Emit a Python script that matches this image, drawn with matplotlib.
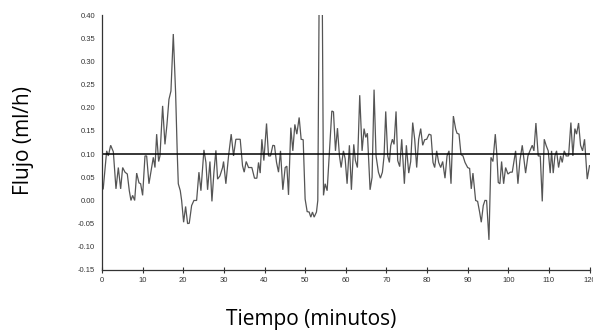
import matplotlib
matplotlib.use("Agg")
import matplotlib.pyplot as plt

# Flow measurements over time
tiempo = [
    0.3, 1.15, 1.56, 2.13, 2.79, 3.44, 4.02, 4.59, 5.08, 5.66, 6.23, 6.72, 7.13, 7.54,
    8.04, 8.53, 9.10, 9.51, 10.0, 10.58, 10.99, 11.56, 12.22, 12.63, 13.04, 13.45,
    13.94, 14.27, 14.92, 15.50, 15.99, 16.48, 16.97, 17.55, 18.12, 18.53, 18.78,
    19.27, 19.60, 20.09, 20.58, 21.07, 21.48, 22.06, 22.63, 23.29, 23.86, 24.35,
    25.09, 25.58, 25.99, 26.57, 27.06, 27.55, 28.04, 28.45, 29.03, 29.68, 29.92,
    30.49, 31.15, 31.80, 32.38, 32.95, 34.02, 34.59, 35.00, 35.49, 36.07, 36.89,
    37.54, 38.12, 38.53, 38.94, 39.35, 39.84, 40.50, 40.99, 41.48, 42.05, 42.46,
    42.96, 43.45, 43.94, 44.51, 45.09, 45.50, 45.91, 46.48, 46.97, 47.47, 47.96,
    48.53, 49.02, 49.52, 50.00, 50.50, 50.99, 51.40, 51.81, 52.22, 52.79, 53.12,
    53.85, 54.52, 54.93, 55.42, 55.91, 56.57, 56.98, 57.47, 57.96, 58.45, 58.86,
    59.43, 59.85, 60.33, 60.90, 61.39, 61.97, 62.38, 62.87, 63.44, 64.02, 64.51,
    64.92, 65.33, 65.99, 66.48, 66.97, 67.46, 68.04, 68.53, 69.02, 69.43, 69.84,
    70.33, 70.74, 71.07, 71.48, 71.89, 72.38, 72.79, 73.28, 73.78, 74.43, 74.92,
    75.50, 75.99, 76.48, 76.97, 77.46, 77.95, 78.45, 78.94, 79.43, 79.93, 80.50,
    80.99, 81.48, 81.89, 82.38, 82.87, 83.37, 83.86, 84.43, 84.93, 85.42, 85.91,
    86.49, 87.06, 87.39, 87.88, 88.37, 88.86, 89.36, 90.01, 90.49, 90.90, 91.31,
    91.97, 92.46, 92.95, 93.36, 93.85, 94.26, 94.67, 95.25, 95.74, 96.23, 96.81,
    97.22, 97.54, 97.95, 98.36, 98.86, 99.35, 99.92, 100.50, 100.99, 101.81,
    102.38, 102.87, 103.45, 104.27, 104.84, 105.33, 105.91, 106.32, 106.81,
    107.38, 107.88, 108.37, 108.86, 109.35, 109.84, 110.33, 110.66, 111.07,
    111.48, 111.89, 112.39, 112.88, 113.29, 113.78, 114.27, 114.85, 115.42,
    115.91, 116.40, 116.81, 117.31, 117.80, 118.29, 118.78, 119.44, 120.0,
]
flujo = [
    0.025, 0.107, 0.096, 0.119, 0.105, 0.025, 0.071, 0.025, 0.071, 0.061, 0.057, 0.021,
    0.000, 0.011, 0.000, 0.059, 0.038, 0.036, 0.011, 0.096, 0.096, 0.036, 0.071, 0.093,
    0.071, 0.143, 0.084, 0.096, 0.204, 0.121, 0.164, 0.218, 0.236, 0.359, 0.232, 0.100,
    0.036, 0.021, 0.000, -0.047, -0.013, -0.050, -0.049, -0.011, 0.000, 0.000, 0.061,
    0.021, 0.109, 0.082, 0.023, 0.084, -0.002, 0.061, 0.108, 0.046, 0.053, 0.071, 0.084,
    0.036, 0.096, 0.143, 0.096, 0.132, 0.132, 0.075, 0.061, 0.084, 0.071, 0.071,
    0.048, 0.048, 0.082, 0.059, 0.132, 0.086, 0.166, 0.096, 0.096, 0.119, 0.118,
    0.082, 0.061, 0.107, 0.023, 0.071, 0.074, 0.012, 0.157, 0.107, 0.164, 0.143,
    0.179, 0.132, 0.131, 0.003, -0.024, -0.025, -0.036, -0.025, -0.036, -0.025, 0.000,
    0.970, 0.011, 0.036, 0.021, 0.096, 0.193, 0.191, 0.107, 0.156, 0.096, 0.071,
    0.107, 0.090, 0.036, 0.119, 0.023, 0.121, 0.086, 0.071, 0.227, 0.107, 0.155,
    0.136, 0.145, 0.023, 0.050, 0.239, 0.096, 0.061, 0.048, 0.061, 0.096, 0.192,
    0.096, 0.082, 0.118, 0.132, 0.121, 0.192, 0.086, 0.073, 0.132, 0.036, 0.119,
    0.059, 0.084, 0.168, 0.132, 0.071, 0.132, 0.155, 0.119, 0.131, 0.132, 0.143,
    0.141, 0.082, 0.071, 0.107, 0.082, 0.071, 0.084, 0.048, 0.096, 0.107, 0.036,
    0.182, 0.154, 0.145, 0.143, 0.099, 0.096, 0.082, 0.071, 0.069, 0.025, 0.059,
    0.000, -0.002, -0.025, -0.047, -0.011, 0.000, 0.000, -0.085, 0.093, 0.084, 0.143,
    0.096, 0.039, 0.036, 0.084, 0.036, 0.071, 0.057, 0.061, 0.061, 0.107,
    0.036, 0.086, 0.119, 0.059, 0.096, 0.107, 0.119, 0.107, 0.167,
    0.096, 0.096, -0.002, 0.132, 0.118, 0.107, 0.059, 0.107, 0.059,
    0.096, 0.107, 0.071, 0.096, 0.082, 0.107, 0.096, 0.096, 0.168,
    0.096, 0.155, 0.143, 0.167, 0.119, 0.107, 0.132, 0.046, 0.075,
]
referencia = 0.10
x_ticks = list(range(0, 121, 10))
y_ticks = [-0.15, -0.10, -0.05, 0.00, 0.05, 0.10, 0.15, 0.20, 0.25, 0.30, 0.35, 0.40]

W, H = 593, 333
fig = plt.figure(figsize=(W / 100, H / 100), dpi=100)
ax = fig.add_axes([102 / W, 1 - 270 / H, (589.5 - 102) / W, (270 - 15) / H])

ax.plot(tiempo, flujo, color="#555555", linewidth=0.9, solid_joinstyle="miter")
ax.axhline(referencia, color="black", linewidth=1.1)

ax.set_xlim(0, 120)
ax.set_ylim(-0.15, 0.40)
ax.set_xticks(x_ticks)
ax.set_yticks(y_ticks)
ax.set_xticklabels([str(v) for v in x_ticks])
ax.set_yticklabels([f"{v:.2f}" for v in y_ticks])

for side in ("top", "right"):
    ax.spines[side].set_visible(False)
for side in ("left", "bottom"):
    ax.spines[side].set_color("#333333")
    ax.spines[side].set_linewidth(0.9)

ax.tick_params(axis="x", direction="inout", length=4, width=0.8, colors="#333333",
               labelsize=5.5, pad=3, labelfontfamily="Liberation Sans")
ax.tick_params(axis="y", length=0, labelsize=5.5, pad=5, colors="#333333",
               labelfontfamily="Liberation Sans")

fig.text(311 / W, 1 - 320 / H, "Tiempo (minutos)", ha="center", va="center",
         fontsize=15, family="Open Sans", color="black")
fig.text(24 / W, 1 - 140 / H, "Flujo (ml/h)", ha="center", va="center",
         rotation=90, fontsize=15, family="Open Sans", color="black")

fig.savefig("out.png", dpi=100)
